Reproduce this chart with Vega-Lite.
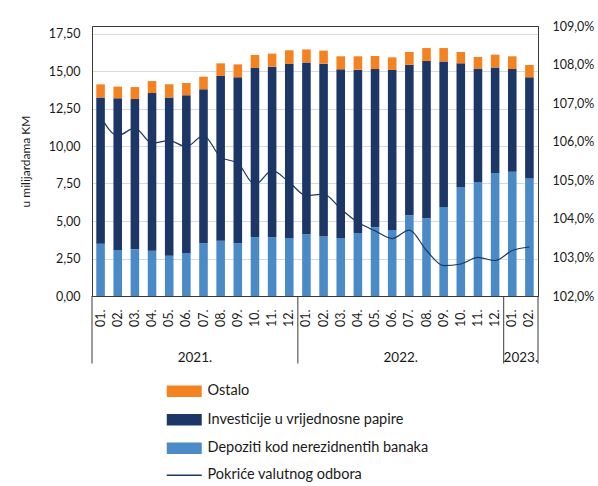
{
  "$schema": "https://vega.github.io/schema/vega-lite/v6.json",
  "autosize": "none",
  "width": 446,
  "height": 270,
  "padding": {"left": 92, "top": 26, "right": 60, "bottom": 190},
  "datasets": {
    "d": [
      {"m": "2021-01", "dep": 3.49, "inv": 9.75, "ost": 0.87, "pok": 1.0665},
      {"m": "2021-02", "dep": 3.07, "inv": 10.11, "ost": 0.78, "pok": 1.0616},
      {"m": "2021-03", "dep": 3.11, "inv": 10.02, "ost": 0.80, "pok": 1.0635},
      {"m": "2021-04", "dep": 3.02, "inv": 10.51, "ost": 0.80, "pok": 1.0596},
      {"m": "2021-05", "dep": 2.69, "inv": 10.55, "ost": 0.87, "pok": 1.0603},
      {"m": "2021-06", "dep": 2.87, "inv": 10.51, "ost": 0.82, "pok": 1.0587},
      {"m": "2021-07", "dep": 3.53, "inv": 10.25, "ost": 0.84, "pok": 1.0616},
      {"m": "2021-08", "dep": 3.69, "inv": 10.98, "ost": 0.84, "pok": 1.0560},
      {"m": "2021-09", "dep": 3.53, "inv": 11.05, "ost": 0.86, "pok": 1.0544},
      {"m": "2021-10", "dep": 3.93, "inv": 11.27, "ost": 0.87, "pok": 1.0489},
      {"m": "2021-11", "dep": 3.93, "inv": 11.36, "ost": 0.87, "pok": 1.0525},
      {"m": "2021-12", "dep": 3.87, "inv": 11.60, "ost": 0.91, "pok": 1.0495},
      {"m": "2022-01", "dep": 4.13, "inv": 11.44, "ost": 0.87, "pok": 1.0460},
      {"m": "2022-02", "dep": 3.96, "inv": 11.53, "ost": 0.87, "pok": 1.0464},
      {"m": "2022-03", "dep": 3.87, "inv": 11.24, "ost": 0.87, "pok": 1.0426},
      {"m": "2022-04", "dep": 4.20, "inv": 10.89, "ost": 0.89, "pok": 1.0391},
      {"m": "2022-05", "dep": 4.58, "inv": 10.55, "ost": 0.87, "pok": 1.0369},
      {"m": "2022-06", "dep": 4.40, "inv": 10.67, "ost": 0.84, "pok": 1.0349},
      {"m": "2022-07", "dep": 5.38, "inv": 10.04, "ost": 0.85, "pok": 1.0371},
      {"m": "2022-08", "dep": 5.18, "inv": 10.49, "ost": 0.86, "pok": 1.0318},
      {"m": "2022-09", "dep": 5.93, "inv": 9.71, "ost": 0.89, "pok": 1.0279},
      {"m": "2022-10", "dep": 7.27, "inv": 8.24, "ost": 0.76, "pok": 1.0283},
      {"m": "2022-11", "dep": 7.60, "inv": 7.56, "ost": 0.77, "pok": 1.0300},
      {"m": "2022-12", "dep": 8.20, "inv": 7.04, "ost": 0.85, "pok": 1.0292},
      {"m": "2023-01", "dep": 8.29, "inv": 6.84, "ost": 0.85, "pok": 1.0318},
      {"m": "2023-02", "dep": 7.84, "inv": 6.74, "ost": 0.82, "pok": 1.0327}
    ],
    "years": [
      {"m": "2021-07", "year": "2021."},
      {"m": "2022-07", "year": "2022."},
      {"m": "2023-02", "year": "2023."}
    ],
    "seps": [
      {"m": "2021-01"},
      {"m": "2022-01"},
      {"m": "2023-01"}
    ],
    "lastsep": [
      {"m": "2023-02"}
    ]
  },
  "data": {"name": "d"},
  "layer": [
    {
      "transform": [{"fold": ["dep", "inv", "ost"], "as": ["key", "val"]}],
      "mark": {"type": "bar"},
      "encoding": {
        "x": {
          "field": "m", "type": "ordinal", "title": null,
          "scale": {"paddingInner": 0.5, "paddingOuter": 0.25},
          "axis": {
            "labelAngle": -90, "labelAlign": "right", "labelBaseline": "middle",
            "labelExpr": "substring(datum.value, 5, 7) + '.'",
            "labelPadding": 13, "labelFontSize": 12.5, "ticks": false, "grid": false,
            "domainColor": "#3a3a3a"
          }
        },
        "y": {
          "field": "val", "type": "quantitative", "stack": "zero",
          "scale": {"domain": [0, 18], "nice": false},
          "axis": {
            "orient": "left",
            "values": [0, 2.5, 5, 7.5, 10, 12.5, 15, 17.5],
            "format": ".2f", "labelPadding": 12, "labelFontSize": 12.5, "labelOverlap": false,
            "ticks": false, "grid": true, "gridColor": "#d9d9d9",
            "domainColor": "#3a3a3a",
            "title": "u milijardama KM", "titleFontSize": 12, "titleFontWeight": "normal",
            "titlePadding": 16, "titleColor": "#1a1a1a"
          }
        },
        "color": {
          "field": "key", "type": "nominal",
          "scale": {"domain": ["ost", "inv", "dep"], "range": ["#f58220", "#1c3765", "#4a8ac6"]},
          "legend": {
            "orient": "none", "legendX": 85, "legendY": 358, "title": null,
            "padding": 0,
            "symbolType": "M-3,-1H3V1H-3Z", "symbolSize": 136, "symbolStrokeWidth": 0,
            "labelFontSize": 14.5, "labelOffset": 16, "rowPadding": 13.5, "labelColor": "#1a1a1a",
            "labelLimit": 0,
            "labelExpr": "datum.label == 'ost' ? 'Ostalo' : datum.label == 'inv' ? 'Investicije u vrijednosne papire' : 'Depoziti kod nerezidnentih banaka'"
          }
        },
        "order": {"field": "key", "type": "nominal", "sort": "ascending"}
      }
    },
    {
      "data": {"name": "seps"},
      "mark": {"type": "rule", "color": "#3a3a3a", "strokeWidth": 1},
      "encoding": {
        "x": {"field": "m", "type": "ordinal", "bandPosition": -0.5, "title": null},
        "y": {"datum": 0, "scale": {"domain": [0, 18], "nice": false}, "axis": null},
        "y2": {"datum": -4.5}
      }
    },
    {
      "data": {"name": "lastsep"},
      "mark": {"type": "rule", "color": "#3a3a3a", "strokeWidth": 1},
      "encoding": {
        "x": {"field": "m", "type": "ordinal", "bandPosition": 1.5, "title": null},
        "y": {"datum": 0, "scale": {"domain": [0, 18], "nice": false}, "axis": null},
        "y2": {"datum": -4.5}
      }
    },
    {
      "data": {"name": "years"},
      "mark": {"type": "text", "fontSize": 13.5, "baseline": "middle", "align": "center", "color": "#1a1a1a"},
      "encoding": {
        "x": {"field": "m", "type": "ordinal", "bandPosition": -0.5, "title": null},
        "y": {"datum": -4.15, "scale": {"domain": [0, 18], "nice": false}, "axis": null},
        "text": {"field": "year"}
      }
    },
    {
      "mark": {"type": "line", "interpolate": "monotone", "strokeWidth": 1.2},
      "encoding": {
        "x": {"field": "m", "type": "ordinal", "title": null},
        "y": {
          "field": "pok", "type": "quantitative",
          "scale": {"domain": [1.02, 1.09], "nice": false, "zero": false},
          "axis": {
            "orient": "right", "format": ".1%",
            "values": [1.02, 1.03, 1.04, 1.05, 1.06, 1.07, 1.08, 1.09],
            "grid": false, "ticks": false, "labelPadding": 14, "labelFontSize": 12.5,
            "labelOverlap": false,
            "title": null, "domainColor": "#3a3a3a"
          }
        },
        "stroke": {
          "datum": "Pokriće valutnog odbora", "type": "nominal",
          "scale": {"range": ["#1c3765"]},
          "legend": {
            "orient": "none", "legendX": 85, "legendY": 442, "title": null,
            "padding": 0,
            "symbolType": "M-3,0H3", "symbolSize": 136, "symbolStrokeWidth": 1.5,
            "labelFontSize": 14.5, "labelOffset": 16, "labelColor": "#1a1a1a", "labelLimit": 0
          }
        }
      }
    }
  ],
  "resolve": {"scale": {"y": "independent"}},
  "config": {
    "locale": {"number": {"decimal": ",", "thousands": ".", "grouping": [3], "currency": ["", ""]}},
    "font": "Lato",
    "view": {"stroke": "#3a3a3a", "strokeWidth": 1},
    "axis": {"labelColor": "#1a1a1a", "labelFont": "Lato", "titleFont": "Lato"},
    "legend": {"labelFont": "Lato"}
  }
}
